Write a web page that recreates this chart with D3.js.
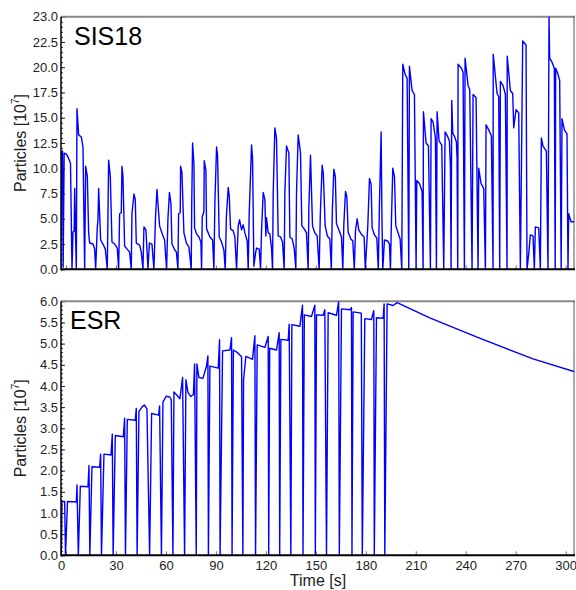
<!DOCTYPE html>
<html>
<head>
<meta charset="utf-8">
<script src="https://cdn.jsdelivr.net/npm/d3@7"></script>
<style>
  body { margin: 0; background: #fff; }
  svg text { font-family: "Liberation Sans", Arial, sans-serif; }
</style>
</head>
<body>
<svg id="chart" width="576" height="590"></svg>
<script>
// SIS18 ring: [time s, particles 1e7]
const sis18 = [
  [-3.0,0],[-2.7,11.6],[-2.1,11.7],[-1.7,0.2],[-1.1,11.5],[0.3,11.4],[1.5,11.0],[2.7,10.5],[3.6,0],
  [4.2,3.7],[4.9,3.8],[5.2,8.0],[5.7,3.7],[6.2,0],
  [6.6,15.9],[7.6,13.3],[9.2,13.1],[10.2,12.1],[11.2,0],
  [11.8,10.2],[12.8,9.2],[13.6,3.6],[14.2,2.6],[16.2,2.5],[17.2,2.0],[17.8,0],
  [18.8,4.2],[19.2,4.9],[19.6,8.0],[20.8,2.9],[22.2,2.5],[23.6,2.0],[24.8,0],
  [25.2,5.4],[25.6,10.8],[26.6,9.2],[27.6,2.7],[29.2,2.5],[30.8,2.1],[31.6,0],
  [32.2,5.5],[33.2,5.6],[33.6,10.2],[34.2,9.2],[35.2,2.3],[36.2,2.1],[38.2,1.7],[39.2,0],
  [39.6,5.5],[40.8,7.45],[41.6,6.9],[42.2,2.6],[44.2,2.4],[45.2,1.7],[46.2,0],
  [46.8,4.2],[48.0,3.9],[49.2,0.1],[50.1,2.6],[51.6,2.5],[52.8,0],
  [53.7,5.0],[54.6,7.9],[56.2,4.3],[57.6,3.6],[59.2,2.9],[60.4,0],
  [61.2,5.0],[62.1,7.6],[63.0,6.5],[63.6,2.5],[65.4,1.9],[66.3,1.7],[67.2,0],
  [67.6,5.5],[68.6,5.6],[68.8,10.2],[69.6,9.6],[70.8,3.6],[72.3,2.6],[73.8,2.2],[75.2,0],
  [75.5,6.5],[76.0,12.5],[76.8,10.5],[77.2,4.1],[78.4,3.5],[79.8,3.2],[81.0,2.7],[81.4,0],
  [81.8,5.2],[82.8,5.7],[83.0,10.75],[84.0,9.8],[84.4,4.0],[86.4,3.2],[88.0,2.9],[88.8,0],
  [89.4,6.7],[90.4,12.1],[91.0,11.3],[92.0,3.2],[93.4,2.7],[94.8,1.9],[95.6,0],
  [96.3,5.2],[97.4,8.1],[98.0,7.3],[98.8,4.0],[100.4,3.8],[101.4,3.2],[102.4,0],
  [103.4,4.3],[104.2,4.9],[105.4,3.9],[106.4,4.4],[107.4,3.6],[108.8,2.8],[109.4,0],
  [110.0,5.5],[111.4,12.3],[112.0,11.0],[112.8,0.3],[113.8,1.6],[114.4,2.1],[116.0,2.0],[116.8,0],
  [117.4,3.8],[118.4,7.6],[119.4,6.9],[120.0,3.3],[120.4,5.1],[121.4,3.6],[122.4,3.5],[123.4,2.1],[124.0,0],
  [124.4,7.5],[125.4,14.0],[126.4,12.9],[127.4,3.3],[128.8,3.2],[130.0,2.7],[131.0,0],
  [131.4,7.6],[132.4,12.2],[133.8,11.5],[134.4,3.2],[135.8,3.0],[137.0,2.1],[138.0,0],
  [138.4,7.6],[139.4,13.3],[140.8,11.5],[141.6,4.3],[143.0,4.0],[144.4,3.6],[145.4,0],
  [145.8,6.0],[146.8,11.3],[148.0,4.3],[149.4,3.6],[150.8,3.3],[152.0,0],
  [152.7,5.5],[153.8,10.3],[154.5,9.5],[155.6,4.3],[156.9,3.3],[158.4,3.0],[159.3,0],
  [159.9,5.7],[160.8,9.9],[161.7,9.2],[162.4,4.5],[164.1,3.8],[165.4,3.2],[166.2,0],
  [166.8,4.4],[167.8,7.7],[168.6,7.2],[169.4,3.7],[171.0,3.0],[172.2,2.8],[173.1,0],
  [173.8,3.8],[174.8,5.0],[175.8,3.9],[177.2,3.5],[179.0,3.2],[179.7,0],
  [181.2,4.3],[182.2,9.0],[183.2,8.4],[183.8,4.1],[185.2,3.4],[186.6,3.1],[187.5,0],
  [188.1,5.7],[189.2,13.6],[189.7,5.0],[190.2,0],
  [191.2,2.9],[193.2,2.8],[194.2,2.5],[194.8,0],
  [195.3,4.2],[196.2,10.0],[197.2,9.2],[198.0,4.3],[199.4,3.6],[200.6,3.0],[201.6,0],
  [202.2,20.3],[203.6,19.3],[204.8,18.9],[205.8,0],
  [206.2,20.1],[207.8,17.7],[209.2,17.3],[210.2,0],
  [210.6,8.8],[212.2,8.5],[213.8,7.7],[214.4,0],
  [214.6,15.6],[216.2,12.5],[217.6,12.2],[218.8,0],
  [219.2,14.9],[220.4,14.6],[221.8,13.0],[222.4,0],
  [222.8,15.6],[224.0,12.7],[225.6,12.3],[226.8,0],
  [227.6,13.6],[229.0,13.2],[230.2,12.7],[230.8,10.2],[231.2,0],
  [231.6,16.7],[232.2,13.5],[233.4,13.1],[234.4,12.6],[234.8,11.0],[235.2,0],
  [235.4,20.3],[237.4,19.9],[238.4,19.5],[239.2,0],
  [239.6,20.9],[241.4,18.2],[242.4,17.8],[243.8,0],
  [244.4,17.3],[246.2,17.0],[247.4,0],
  [247.8,10.0],[249.2,8.5],[250.8,8.0],[251.8,0],
  [252.2,14.3],[253.8,13.8],[255.4,13.2],[256.4,0],
  [256.5,21.3],[258.8,17.4],[259.8,17.1],[260.4,0],
  [260.8,18.6],[262.4,18.2],[263.8,17.3],[264.8,0],
  [264.9,21.1],[266.8,17.7],[268.2,17.4],[268.8,14.0],[270.2,15.8],[271.8,15.5],[272.8,0],
  [274.2,22.6],[276.2,22.2],[276.8,0],
  [277.8,1.5],[278.8,3.4],[280.4,3.3],[281.2,0],
  [281.8,4.2],[283.8,4.1],[284.8,0],
  [285.4,13.0],[286.4,12.2],[288.4,11.7],[289.4,0],
  [290.0,25.0],[290.4,20.9],[291.8,20.5],[293.2,19.9],[293.7,0],
  [294.0,19.9],[295.2,19.4],[296.4,18.7],[297.3,0],
  [297.8,14.9],[299.2,13.8],[300.8,13.4],[301.4,0],
  [301.8,5.5],[303.2,4.7],[305.2,4.7]
];

// ESR ring: [time s, particles 1e7]
const esr = [
  [-2.8,0],[-2.4,1.27],[-0.8,1.27],[-0.3,0],[0.9,1.27],[6.2,1.26],[6.6,1.66],[7.4,0],
  [8.6,1.63],[13.2,1.62],[13.8,2.12],[14.3,0],[15.6,2.09],[20.2,2.08],[20.8,2.39],[21.3,0],
  [22.8,2.39],[27.0,2.37],[27.8,2.86],[28.3,0],[29.6,2.83],[34.4,2.80],[35.2,3.24],[35.7,0],
  [36.8,3.21],[41.6,3.19],[42.2,3.47],[42.7,0],[43.8,3.40],[45.6,3.50],[47.0,3.55],[48.6,3.46],[50.2,0],
  [51.4,3.35],[55.6,3.31],[56.2,3.53],[57.3,0],[58.2,3.62],[60.2,3.76],[62.2,3.74],[63.2,3.68],[64.2,0],
  [64.8,3.86],[66.6,3.78],[68.4,3.70],[70.0,4.20],[71.2,0],[72.0,4.15],[73.2,3.85],[75.0,3.75],[76.5,3.80],
  [77.2,4.52],[78.2,0],[78.6,4.52],[79.8,4.20],[82.2,4.18],[83.1,4.30],[84.3,4.46],[85.2,4.71],[85.5,0],
  [86.4,4.47],[91.4,4.42],[92.2,5.09],[92.5,0],[94.0,4.83],[98.4,4.85],[99.4,5.14],[99.7,0],
  [100.5,4.85],[103.2,4.78],[105.4,4.69],[106.2,0],[106.6,4.14],[108.0,4.70],[112.0,4.63],[113.4,5.19],[113.8,0],
  [114.8,4.97],[119.4,4.91],[121.4,5.17],[121.7,0],[122.3,4.89],[126.4,4.85],[128.0,5.26],[128.3,0],
  [129.0,5.10],[133.4,5.08],[134.0,5.46],[135.0,0],[135.6,5.45],[140.4,5.41],[142.0,5.91],[142.3,0],
  [143.1,5.68],[147.4,5.64],[149.4,5.91],[149.7,0],[150.4,5.68],[154.4,5.67],[155.4,5.80],[156.4,0],
  [157.4,5.73],[162.4,5.67],[163.7,5.99],[164.1,0],[165.4,5.82],[170.4,5.80],[171.4,5.85],[171.7,0],
  [172.4,5.75],[177.3,5.72],[177.9,0],[179.4,5.59],[183.4,5.57],[184.8,5.78],[185.1,0],
  [186.4,5.61],[190.4,5.60],[191.0,5.94],[191.4,0],[192.8,5.94],[196.4,5.90],[198.8,5.97],
  [218.4,5.61],[246.4,5.16],[280.4,4.64],[305.0,4.34]
];

const timeTicks = [0, 30, 60, 90, 120, 150, 180, 210, 240, 270, 300];
const sisTicks = [0, 2.5, 5, 7.5, 10, 12.5, 15, 17.5, 20, 22.5, 25];
const sisTickLabels = ["0.0","2.5","5.0","7.5","10.0","12.5","15.0","17.5","20.0","22.5","23.0"];
const sisMinor = d3.range(0, 25.01, 0.5);
const esrTicks = d3.range(0, 6.01, 0.5);
const esrMinor = d3.range(0, 6.001, 0.1);

const svg = d3.select("#chart");
const left = 61, right = 574;

const x = d3.scaleLinear().domain([-3, 305]).range([left, right]);

function drawPanel(opts) {
  const y = d3.scaleLinear().domain(opts.domain).range([opts.bottom, opts.top]);
  const g = svg.append("g");

  g.append("clipPath").attr("id", opts.id + "-clip")
    .append("rect")
    .attr("x", left).attr("y", opts.top)
    .attr("width", right - left).attr("height", opts.bottom - opts.top);

  // minor y ticks
  g.append("g")
    .attr("transform", `translate(${left},0)`)
    .call(d3.axisLeft(y).tickValues(opts.minor).tickSize(-2).tickFormat(""))
    .call(a => a.select(".domain").remove())
    .selectAll("line").attr("stroke", "#333");

  // major y ticks
  const ya = g.append("g")
    .attr("transform", `translate(${left},0)`)
    .call(d3.axisLeft(y).tickValues(opts.ticks).tickSize(-4).tickPadding(3)
      .tickFormat((d, i) => opts.labels[i]));
  ya.select(".domain").remove();
  ya.selectAll("line").attr("stroke", "#222");
  ya.selectAll("text").attr("font-size", 13).attr("fill", "#222")
    .attr("font-family", "'Liberation Sans', Arial, sans-serif");

  // x ticks
  const xa = g.append("g")
    .attr("transform", `translate(0,${opts.bottom})`)
    .call(d3.axisBottom(x).tickValues(timeTicks).tickSize(-4).tickPadding(5)
      .tickFormat(opts.xLabels ? d3.format("d") : ""));
  xa.select(".domain").remove();
  xa.selectAll("line").attr("stroke", "#777");
  xa.selectAll("text").attr("font-size", 13).attr("fill", "#222")
    .attr("font-family", "'Liberation Sans', Arial, sans-serif")
    .attr("dx", d => d === 0 ? -5 : 0);

  // frame
  g.append("line").attr("x1", left).attr("x2", right + 1)
    .attr("y1", opts.top).attr("y2", opts.top)
    .attr("stroke", "#888").attr("stroke-width", 2);
  g.append("line").attr("x1", right).attr("x2", right)
    .attr("y1", opts.top).attr("y2", opts.bottom)
    .attr("stroke", "#555").attr("stroke-width", 1);

  // data line
  g.append("path")
    .datum(opts.data)
    .attr("clip-path", `url(#${opts.id}-clip)`)
    .attr("fill", "none")
    .attr("stroke", "#0000ff")
    .attr("stroke-width", 1.4)
    .attr("stroke-linejoin", "round")
    .attr("d", d3.line().x(d => x(d[0])).y(d => y(d[1])));

  // axis lines
  g.append("line").attr("x1", left).attr("x2", left)
    .attr("y1", opts.top).attr("y2", opts.bottom + 1)
    .attr("stroke", "#000").attr("stroke-width", 1.5);
  g.append("line").attr("x1", left).attr("x2", right + 1)
    .attr("y1", opts.bottom).attr("y2", opts.bottom)
    .attr("stroke", "#000").attr("stroke-width", 2);

  // panel title
  g.append("text").attr("x", opts.titleX).attr("y", opts.titleY)
    .attr("font-size", 25).attr("fill", "#000").text(opts.title);

  // y label
  const cy = (opts.top + opts.bottom) / 2;
  const lab = g.append("text")
    .attr("transform", `translate(26,${cy}) rotate(-90)`)
    .attr("text-anchor", "middle").attr("font-size", 16).attr("fill", "#222");
  lab.append("tspan").text("Particles [10");
  lab.append("tspan").attr("font-size", 10).attr("dy", -7).text("7");
  lab.append("tspan").attr("dy", 7).text("]");
}

drawPanel({
  id: "sis", data: sis18, domain: [0, 25], top: 16.7, bottom: 269.3,
  ticks: sisTicks, labels: sisTickLabels, minor: sisMinor, xLabels: false,
  title: "SIS18", titleX: 74, titleY: 45
});

drawPanel({
  id: "esr", data: esr, domain: [0, 6], top: 301.3, bottom: 555.3,
  ticks: esrTicks, labels: esrTicks.map(d => d.toFixed(1)), minor: esrMinor, xLabels: true,
  title: "ESR", titleX: 70, titleY: 329
});

svg.append("text")
  .attr("x", 318).attr("y", 586)
  .attr("text-anchor", "middle").attr("font-size", 16).attr("fill", "#222")
  .text("Time [s]");
</script>
</body>
</html>
